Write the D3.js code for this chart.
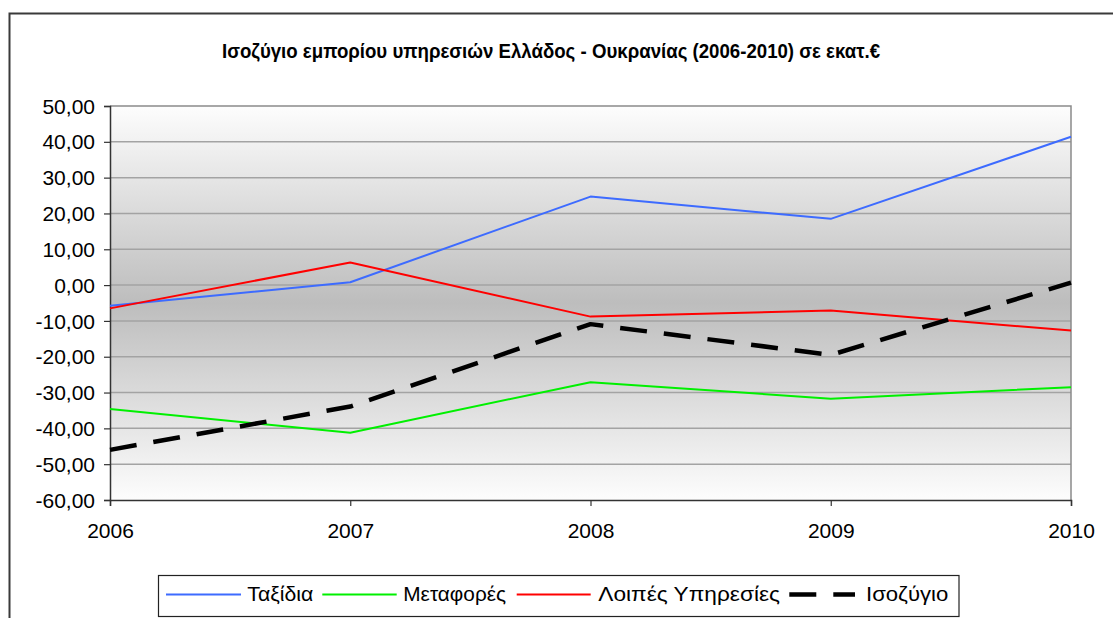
<!DOCTYPE html>
<html>
<head>
<meta charset="utf-8">
<script src="https://cdn.jsdelivr.net/npm/d3@7/dist/d3.min.js"></script>
<style>
  html, body { margin: 0; padding: 0; background: #ffffff; }
  svg { display: block; }
  text { font-family: "Liberation Sans", Arial, sans-serif; fill: #000; }
</style>
</head>
<body>
<div id="chart"></div>
<script>
// ---- data ----
const years = ["2006", "2007", "2008", "2009", "2010"];
const taxidia = [-5.8, 0.8, 24.7, 18.5, 41.4];
const metafores = [-34.6, -41.2, -27.1, -31.7, -28.5];
const loipes = [-6.5, 6.3, -8.8, -7.1, -12.7];
const isozygio = [-46.0, -33.9, -10.9, -19.5, 0.7];
const yTicks = [50, 40, 30, 20, 10, 0, -10, -20, -30, -40, -50, -60];
const seriesNames = ["Ταξίδια", "Μεταφορές", "Λοιπές Υπηρεσίες", "Ισοζύγιο"];
const title = "Ισοζύγιο εμπορίου υπηρεσιών Ελλάδος - Ουκρανίας (2006-2010) σε εκατ.€";

const W = 1113, H = 618;
const plot = { left: 110, right: 1071, top: 106, bottom: 500 };

const svg = d3.select("#chart").append("svg").attr("width", W).attr("height", H);

// outer chart border
svg.append("rect").attr("x", 9.5).attr("y", 13.5).attr("width", 1300).attr("height", 800)
  .attr("fill", "#fff").attr("stroke", "#3a3a3a").attr("stroke-width", 2);

// title
svg.append("text").attr("x", 551).attr("y", 58).attr("text-anchor", "middle")
  .attr("font-size", 20).attr("font-weight", "bold")
  .attr("textLength", 658).attr("lengthAdjust", "spacingAndGlyphs")
  .text(title);

const x = d3.scalePoint().domain(years).range([plot.left, plot.right]);
const y = d3.scaleLinear().domain([-60, 50]).range([plot.bottom, plot.top]);

// background gradient
const defs = svg.append("defs");
const grad = defs.append("linearGradient").attr("id", "bg").attr("x1", 0).attr("y1", 0).attr("x2", 0).attr("y2", 1);
grad.append("stop").attr("offset", "0%").attr("stop-color", "#fdfdfd");
grad.append("stop").attr("offset", "50%").attr("stop-color", "#bdbdbd");
grad.append("stop").attr("offset", "100%").attr("stop-color", "#fdfdfd");

svg.append("rect").attr("x", plot.left).attr("y", plot.top)
  .attr("width", plot.right - plot.left).attr("height", plot.bottom - plot.top)
  .attr("fill", "url(#bg)");

// gridlines
svg.append("g").selectAll("line").data(yTicks.filter(d => d !== -60 && d !== 50)).join("line")
  .attr("x1", plot.left).attr("x2", plot.right)
  .attr("y1", d => y(d)).attr("y2", d => y(d))
  .attr("stroke", "#a3a3a3").attr("stroke-width", 1.5);

// top and right frame
svg.append("path")
  .attr("d", `M${plot.left},${plot.top}H${plot.right}V${plot.bottom}`)
  .attr("fill", "none").attr("stroke", "#8a8a8a").attr("stroke-width", 1.5);

// axes
const fmt = d => d3.format(".2f")(d).replace("−", "-").replace(".", ",");
const yAxis = svg.append("g").attr("transform", `translate(${plot.left},0)`)
  .call(d3.axisLeft(y).tickValues(yTicks).tickSize(6).tickPadding(9).tickFormat(fmt));
yAxis.selectAll("text").attr("font-size", 21).attr("font-family", "Liberation Sans, Arial, sans-serif")
  .attr("fill", "#000").attr("dy", "0.34em");
yAxis.select(".domain").attr("stroke", "#333").attr("stroke-width", 1.5);
yAxis.selectAll(".tick line").attr("stroke", "#333").attr("stroke-width", 1.2);

const xAxis = svg.append("g").attr("transform", `translate(0,${plot.bottom})`)
  .call(d3.axisBottom(x).tickSize(6).tickPadding(0));
xAxis.selectAll("text").attr("font-size", 21).attr("font-family", "Liberation Sans, Arial, sans-serif")
  .attr("fill", "#000").attr("y", 38).attr("dy", 0);
xAxis.select(".domain").attr("stroke", "#333").attr("stroke-width", 1.5);
xAxis.selectAll(".tick line").attr("stroke", "#333").attr("stroke-width", 1.2);

// series
const series = [
  { name: seriesNames[0], values: taxidia, color: "#3d6bff", width: 2, dash: null },
  { name: seriesNames[1], values: metafores, color: "#00f000", width: 2, dash: null },
  { name: seriesNames[2], values: loipes, color: "#ff0000", width: 2, dash: null },
  { name: seriesNames[3], values: isozygio, color: "#000000", width: 4.5, dash: "27,17" }
];
const line = d3.line().x((d, i) => x(years[i])).y(d => y(d));
svg.append("g").selectAll("path").data(series).join("path")
  .attr("d", s => line(s.values))
  .attr("fill", "none")
  .attr("stroke", s => s.color)
  .attr("stroke-width", s => s.width)
  .attr("stroke-dasharray", s => s.dash)
  .attr("stroke-linejoin", "round");

// legend
svg.append("rect").attr("x", 158.5).attr("y", 575.5).attr("width", 800.5).attr("height", 41)
  .attr("fill", "#fff").attr("stroke", "#222").attr("stroke-width", 1.2);
const legendItems = [
  { x1: 166, x2: 241, tx: 247.3, tw: 66 },
  { x1: 322.3, x2: 396.7, tx: 403.3, tw: 102.7 },
  { x1: 516.7, x2: 590.7, tx: 598.3, tw: 181.7 },
  { x1: 789.3, x2: 855, tx: 866, tw: 82.3 }
];
const lg = svg.append("g");
series.forEach((s, i) => {
  const p = legendItems[i];
  lg.append("line").attr("x1", p.x1).attr("x2", p.x2).attr("y1", 594.5).attr("y2", 594.5)
    .attr("stroke", s.color).attr("stroke-width", s.width)
    .attr("stroke-dasharray", s.dash ? "27,17" : null);
  lg.append("text").attr("x", p.tx).attr("y", 601).attr("font-size", 21)
    .attr("textLength", p.tw).attr("lengthAdjust", "spacingAndGlyphs")
    .text(s.name);
});
</script>
</body>
</html>
